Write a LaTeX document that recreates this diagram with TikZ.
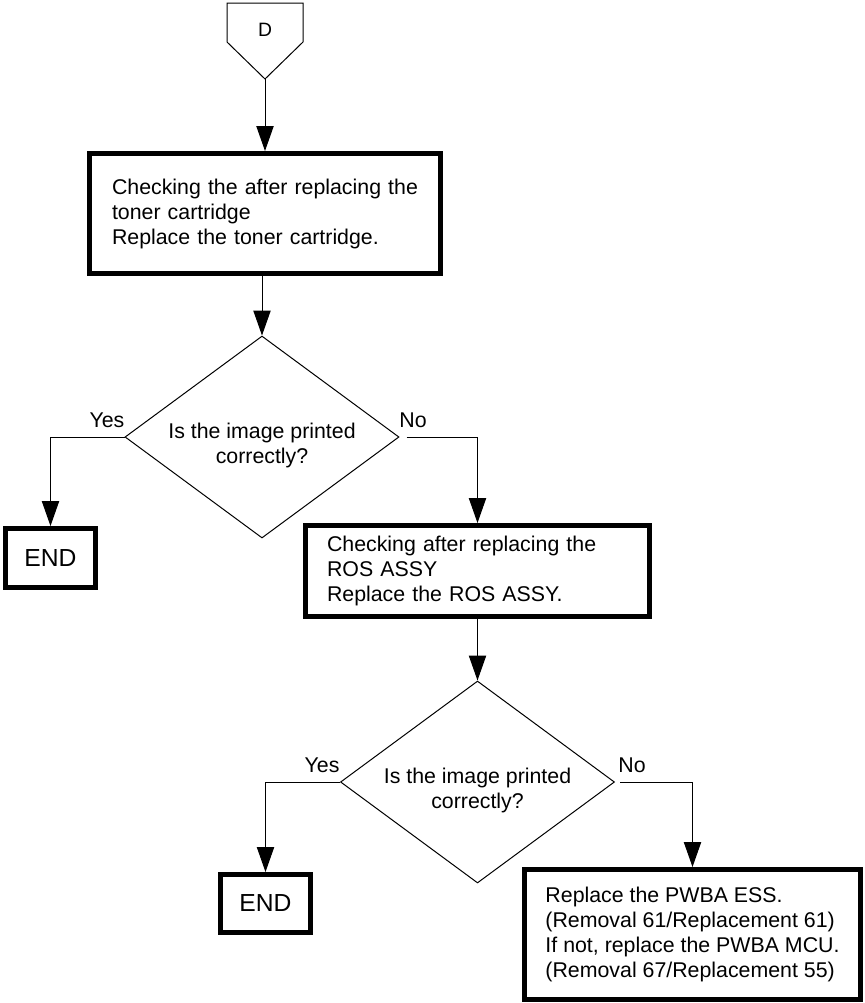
\documentclass[tikz,border=0pt]{standalone}
\usepackage{fontspec}
\setmainfont{Liberation Sans}
\usetikzlibrary{arrows.meta,shapes.geometric}
\begin{document}
\begin{tikzpicture}[x=0.75pt,y=-0.75pt,
  txt/.style={font=\fontsize{16pt}{18.75pt}\selectfont},
  box/.style={draw, line width=3.75pt, rectangle, inner ysep=0pt, txt, align=left},
  endbox/.style={draw, line width=3.75pt, rectangle, minimum width=67.5pt, inner sep=0pt, font=\fontsize{18.5pt}{22pt}\selectfont},
  dia/.style={draw, diamond, line width=0.75pt, inner sep=0pt, aspect=1.35, minimum width=205.5pt, minimum height=151.5pt},
  qtext/.style={txt, align=center},
  conn/.style={line width=0.75pt, -{Triangle[length=18.75pt,width=13pt]}},
  lbl/.style={txt, anchor=base}]
\useasboundingbox (0,0) rectangle (864,1003);

% off-page connector D
\draw[line width=0.75pt] (227,3) -- (303,3) -- (303,42) -- (265,79) -- (227,42) -- cycle;
\coordinate (dtip) at (265,79);
\node[font=\fontsize{14.5pt}{17pt}\selectfont] (dlbl) at (265,30) {D};

% boxes
\node[box, text width=229.5pt, inner xsep=16.875pt, minimum height=90pt] (b1) at (265,213.5)
  {Checking the after replacing the\\toner cartridge\\Replace the toner cartridge.};
\node[box, text width=225.75pt, inner xsep=16.125pt, minimum height=68.25pt] (b2) at (477.5,571)
  {Checking after replacing the\\ROS ASSY\\Replace the ROS ASSY.};
\node[box, minimum width=252pt, minimum height=97.5pt, inner xsep=0pt] (b3) at (692.5,934.5)
  {Replace the PWBA ESS.\\(Removal 61/Replacement 61)\\If not, replace the PWBA MCU.\\(Removal 67/Replacement 55)};

% decisions
\node[dia] (q1) at (262,437) {};
\node[qtext] (q1t) at (262,445) {Is the image printed\\correctly?};
\node[dia] (q2) at (477.5,782) {};
\node[qtext] (q2t) at (477.5,790) {Is the image printed\\correctly?};

% END boxes
\node[endbox, minimum height=44.25pt] (e1) at (50.5,558) {END};
\node[endbox, minimum height=43.5pt] (e2) at (265.5,903.5) {END};

% labels
\node[lbl] (y1) at (107,427) {Yes};
\node[lbl] (n1) at (413,427) {No};
\node[lbl] (y2) at (322,772) {Yes};
\node[lbl] (n2) at (632,772) {No};

% connectors
\draw[conn] (dtip) -- (b1.north);
\draw[conn] (b1.south -| q1.north) -- (q1.north);
\draw[conn] (q1.west) -| (e1.north);
\draw[conn] ([xshift=5.25pt]q1.east) -| (b2.north);
\draw[conn] (b2.south) -- (q2.north);
\draw[conn] (q2.west) -| (e2.north);
\draw[conn] ([xshift=3.75pt]q2.east) -| (b3.north);
\end{tikzpicture}
\end{document}
